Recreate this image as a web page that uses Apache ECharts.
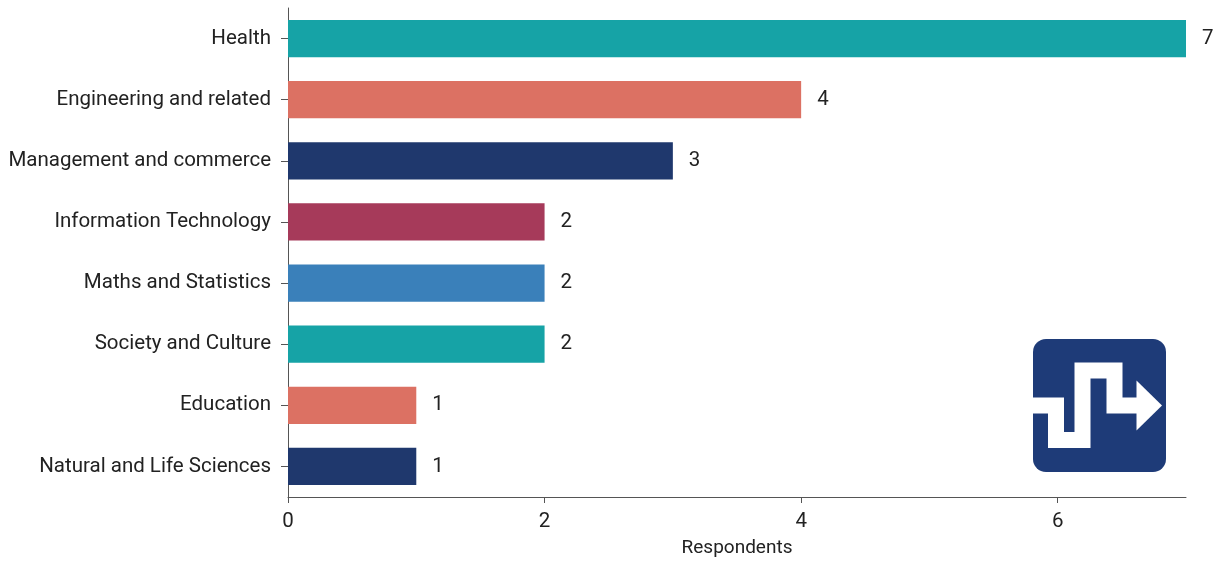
<!DOCTYPE html>
<html>
<head>
<meta charset="utf-8">
<script src="https://cdn.jsdelivr.net/npm/echarts@6/dist/echarts.min.js"></script>
<style>
  html, body { margin: 0; padding: 0; background: #ffffff; }
  #chart { width: 1225px; height: 563px; }
</style>
</head>
<body>
<div id="chart"></div>
<script>
// Fields of study, top to bottom
const categories = [
  'Health',
  'Engineering and related',
  'Management and commerce',
  'Information Technology',
  'Maths and Statistics',
  'Society and Culture',
  'Education',
  'Natural and Life Sciences'
];
// Number of respondents per field
const respondents = [7, 4, 3, 2, 2, 2, 1, 1];
// Bar colours, one per field
const barColors = ['#16A3A6', '#DC7163', '#1F386D', '#A63A5A', '#3A80BA', '#16A3A6', '#DC7163', '#1F386D'];
// Tick values shown on the respondents axis
const xTicks = [0, 2, 4, 6];

const FONT = 'Roboto';
const TEXT = '#222222';
const AXIS = '#555555';

const chart = echarts.init(document.getElementById('chart'), null, { renderer: 'canvas' });

// Brand mark: rounded navy square with a stepped white arrow
const LOGO = '#1E3B78';
const logo = {
  type: 'group',
  children: [
    {
      type: 'rect',
      shape: { x: 1033, y: 339, width: 133, height: 133, r: 13 },
      style: { fill: LOGO }
    },
    {
      type: 'polyline',
      shape: {
        points: [[1033, 405.5], [1056, 405.5], [1056, 440], [1082.5, 440], [1082.5, 370.5], [1114.5, 370.5], [1114.5, 405.5], [1138, 405.5]]
      },
      style: { stroke: '#ffffff', lineWidth: 16, fill: null, lineJoin: 'miter', lineCap: 'butt' }
    },
    {
      type: 'polygon',
      shape: { points: [[1136.5, 380.5], [1162, 405.5], [1136.5, 430.5]] },
      style: { fill: '#ffffff' }
    }
  ]
};

chart.setOption({
  animation: false,
  backgroundColor: '#ffffff',
  grid: { left: 288, right: 39, top: 8, bottom: 66, containLabel: false },
  xAxis: {
    type: 'value',
    min: 0,
    max: 7,
    interval: 2,
    name: 'Respondents',
    nameLocation: 'middle',
    nameGap: 42,
    nameTextStyle: { fontFamily: FONT, fontSize: 19, color: TEXT },
    axisLine: { show: true, lineStyle: { color: AXIS, width: 1 } },
    axisTick: { show: true, length: 6, lineStyle: { color: AXIS }, customValues: xTicks },
    axisLabel: { fontFamily: FONT, fontSize: 20.5, color: TEXT, margin: 14, customValues: xTicks },
    splitLine: { show: false }
  },
  yAxis: {
    type: 'category',
    data: categories,
    inverse: true,
    axisLine: { show: true, lineStyle: { color: AXIS, width: 1 } },
    axisTick: { show: true, length: 7, alignWithLabel: true, lineStyle: { color: AXIS } },
    axisLabel: { fontFamily: FONT, fontSize: 20.5, color: TEXT, margin: 17, padding: [3, 0, 0, 0] }
  },
  series: [{
    type: 'bar',
    data: respondents.map((v, i) => ({ value: v, itemStyle: { color: barColors[i] } })),
    barWidth: '61%',
    label: {
      show: true,
      position: 'right',
      distance: 16,
      fontFamily: FONT,
      fontSize: 20.5,
      color: TEXT,
      padding: [3, 0, 0, 0]
    }
  }],
  graphic: [logo]
});
</script>
</body>
</html>
